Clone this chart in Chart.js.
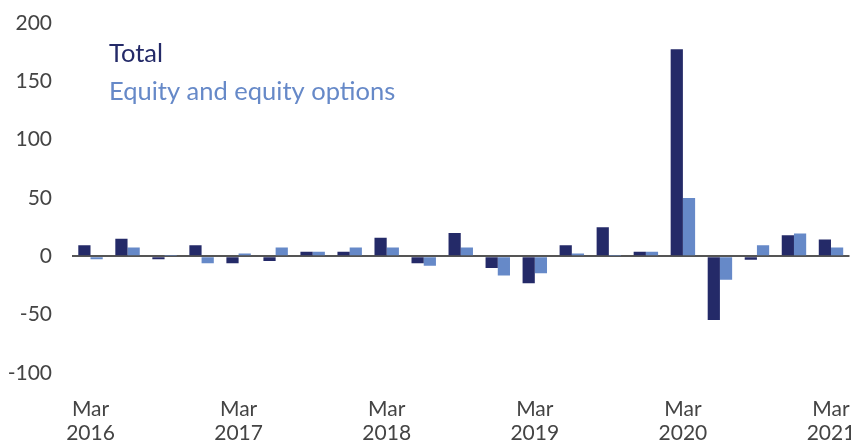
<!DOCTYPE html>
<html>
<head>
<meta charset="utf-8">
<script src="https://cdn.jsdelivr.net/npm/chart.js@4.4.1/dist/chart.umd.min.js"></script>
<style>
  html, body { margin: 0; padding: 0; background: #fff; }
  #wrap { width: 851px; height: 442px; }
</style>
</head>
<body>
<div id="wrap"><canvas id="myChart" width="851" height="442"></canvas></div>
<script>
'use strict';

// quarters Mar 2016 .. Mar 2021, label only every March
let quarters = [];
for (let y = 2016; y <= 2021; y++) {
  for (let q = 0; q < 4; q++) {
    if (y === 2021 && q > 0) break;
    quarters.push(q === 0 ? ['Mar', String(y)] : '');
  }
}

let totalValues = [9.5, 15, -2.5, 9.5, -6, -4, 4, 4, 16, -6, 20, -10, -23, 9.5, 25, 4, 177.5, -54.5, -3, 18, 14.5];
let equityValues = [-2.5, 7.5, 0.5, -6, 2.5, 7.5, 4, 7.5, 7.5, -8, 7.5, -16.5, -14.5, 2.5, 0.5, 4, 50, -20, 9.5, 19.5, 7.5];

let yTicks = [-100, -50, 0, 50, 100, 150, 200];

let navy = '#242a68';
let lightBlue = '#6689c8';
let tickGrey = '#444';

// series names drawn top-left inside the plot
let legendPlugin = {
  id: 'textLegend',
  afterDraw(chart) {
    let ctx = chart.ctx;
    ctx.save();
    ctx.font = '25.5px Lato';
    ctx.textBaseline = 'alphabetic';
    ctx.textAlign = 'left';
    ctx.fillStyle = navy;
    ctx.fillText('Total', 109, 62);
    ctx.fillStyle = lightBlue;
    ctx.fillText('Equity and equity options', 109, 100);
    ctx.restore();
  }
};

let ctx = document.getElementById('myChart').getContext('2d');
let myChart = new Chart(ctx, {
  type: 'bar',
  data: {
    labels: quarters,
    datasets: [{
      label: 'Total',
      data: totalValues,
      backgroundColor: navy,
      borderWidth: 0
    }, {
      label: 'Equity and equity options',
      data: equityValues,
      backgroundColor: lightBlue,
      borderWidth: 0
    }]
  },
  options: {
    responsive: false,
    animation: false,
    layout: { padding: { top: 23, right: 1.5, bottom: 0, left: 0 } },
    plugins: {
      legend: { display: false },
      tooltip: { enabled: false }
    },
    datasets: {
      bar: { categoryPercentage: 0.66, barPercentage: 1 }
    },
    scales: {
      x: {
        grid: { display: false },
        border: { display: false },
        ticks: {
          autoSkip: false,
          maxRotation: 0,
          color: tickGrey,
          padding: 16,
          font: { family: 'Lato', size: 21, lineHeight: 1.15 }
        },
        afterFit(scale) {
          scale.height = 69;
          // let the end labels hang past the plot edges
          scale.paddingLeft = 0;
          scale.paddingRight = 0;
        }
      },
      y: {
        min: -100,
        max: 200,
        afterBuildTicks(scale) {
          scale.ticks = yTicks.map(v => ({ value: v }));
        },
        grid: {
          drawTicks: false,
          color: c => c.tick && c.tick.value === 0 ? '#555' : 'rgba(0,0,0,0)',
          lineWidth: c => c.tick && c.tick.value === 0 ? 2 : 0
        },
        border: { display: false },
        ticks: {
          color: tickGrey,
          padding: 20,
          font: { family: 'Lato', size: 21 }
        },
        afterFit(scale) {
          scale.width = 72;
          scale.paddingTop = 0;
          scale.paddingBottom = 0;
        }
      }
    }
  },
  plugins: [legendPlugin]
});
</script>
</body>
</html>
